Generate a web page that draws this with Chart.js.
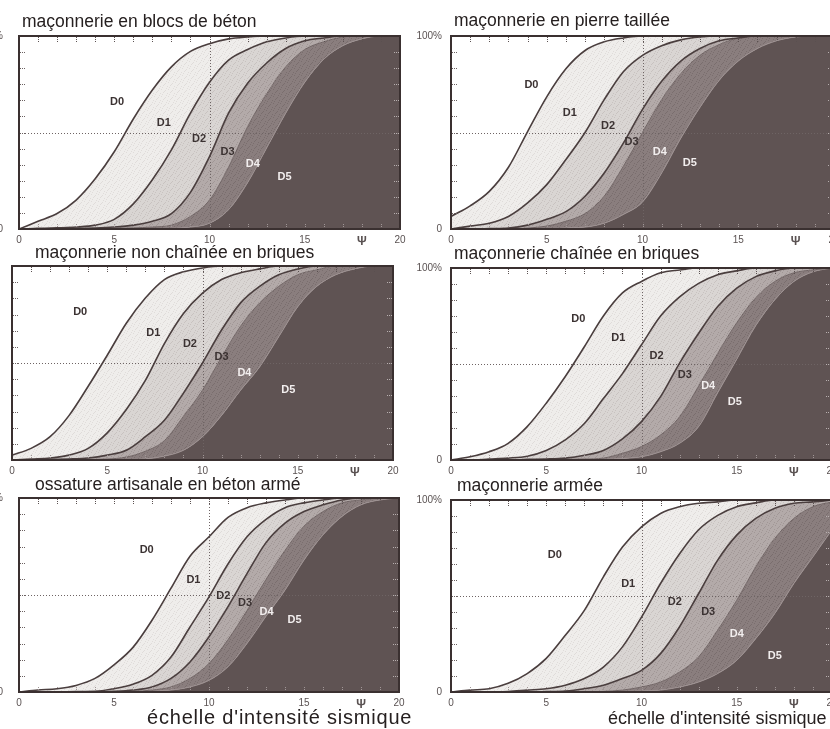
<!DOCTYPE html>
<html><head><meta charset="utf-8">
<script src="https://cdn.jsdelivr.net/npm/chart.js@4/dist/chart.umd.min.js"></script>
<style>
html,body{margin:0;padding:0;width:830px;height:729px;overflow:hidden;background:#fff;position:relative;}
canvas{position:absolute;}
.title{position:absolute;font-family:"Liberation Sans",Arial,sans-serif;font-size:17.5px;line-height:17.5px;color:#262020;white-space:nowrap;}
.axis{position:absolute;font-family:"Liberation Sans",Arial,sans-serif;color:#262020;white-space:nowrap;}
</style></head><body>
<script>
// ---- data ----
const psi = [0,1,2,3,4,5,6,7,8,9,10,11,12,13,14,15,16,17,18,19,20];
const xTickValues = [0,5,10,15,18,20];
const xTickLabels = ['0','5','10','15','Ψ','20'];
const yTickValues = [0,100];
const yTickLabels = ['0','100%'];
const damageLabels = ['D0','D1','D2','D3','D4','D5'];
const panelTitles = ['maçonnerie en blocs de béton','maçonnerie en pierre taillée','maçonnerie non chaînée en briques','maçonnerie chaînée en briques','ossature artisanale en béton armé','maçonnerie armée'];
const axisTitle = "échelle d'intensité sismique";
const refPsi = 10, refPct = 50;

// cumulative % of buildings with damage >= D1..D5, at psi = 0..20
const blocsBeton = [
  [0,4,8,15,26,40,57,72,84,92,96,98.5,99.5,100,100,100,100,100,100,100,100],
  [0,0.3,0.6,1,2,5,13,25.5,41,60,76,87.5,93,97,99,100,100,100,100,100,100],
  [0,0,0,0.3,0.5,1,2,4,8,19,37.5,60,75.5,86,93.5,97.5,99,100,100,100,100],
  [0,0,0,0,0,0.3,0.6,1,2,6.5,15,32,53,70,84,93,97,99.5,100,100,100],
  [0,0,0,0,0,0,0,0,0.3,1,3,10,24,42,60,76,88,95,98.5,100,100]
];
const pierreTaillee = [
  [6.5,12,19.5,32,50.5,68.5,83,92.5,97,99,100,100,100,100,100,100,100,100,100,100,100],
  [0,1.5,3,6.5,13.5,23,36,50,67,81.5,90,95,98,99.5,100,100,100,100,100,100,100],
  [0,0,0.2,0.5,2,5,9,17,29,44.5,62,76.5,87,93.5,97.5,99,100,100,100,100,100],
  [0,0,0,0,0.5,1.5,4,8,17,32.5,50,67,80.5,90,95.5,99,100,100,100,100,100],
  [0,0,0,0,0,0,0.5,1,3,7.5,14,29,47,63,77,87,93.5,97.5,99.5,100,100]
];
const briquesNonChainees = [
  [2.5,6,12,23,38,54,70.5,83.5,93,97,99,100,100,100,100,100,100,100,100,100,100],
  [0,0.5,1,2.5,6,14,26,41,60,75.5,86,93,96.5,98.5,100,100,100,100,100,100,100],
  [0,0,0.3,0.5,1,2.5,5,12,20.5,34.5,50,67,81,89.5,95.5,98.5,100,100,100,100,100],
  [0,0,0,0,0.3,0.5,1.5,4.5,10,22.5,36,53,69,81,89.5,95.5,98,100,100,100,100],
  [0,0,0,0,0,0,0,0.5,2,5,12,23,36,48,63.5,79,89.5,95.5,98.5,100,100]
];
const briquesChainees = [
  [0,1.7,4.3,8.7,17.4,29.6,43.5,59,75,87,93,97.5,99,100,100,100,100,100,100,100,100],
  [0,0,0.5,1,2,5,10.5,19,32,45,60,75,85,92,96.5,98.5,100,100,100,100,100],
  [0,0,0,0,0.3,0.5,1,2.5,5,11,20,33,50.5,66,80,89.5,95.5,98.5,100,100,100],
  [0,0,0,0,0,0,0.3,0.5,1,3.5,7,13,22.5,38.5,55.5,71.5,84.5,93,97.5,99,100],
  [0,0,0,0,0,0,0,0,0.3,0.8,1.7,4.3,8.7,17.4,35,52.5,70,83.5,93,98,100]
];
const ossatureBeton = [
  [0,1,1.7,3.4,7,14,23,37,53.5,70,80,90,95,97.5,99,100,100,100,100,100,100],
  [0,0,0,0.2,0.3,1.7,4,8.6,18,33.5,49,66,80,89,95,97.5,99,100,100,100,100],
  [0,0,0,0,0,0.3,1,2.6,7,15.5,28.5,44,61,77,87,93,96.5,99,100,100,100],
  [0,0,0,0,0,0,0.3,1,2.6,7,14.7,27,42,58,73,85.5,93,97.5,99,100,100],
  [0,0,0,0,0,0,0,0.3,1,2.6,6,13,25,39,52.5,68,81,90.5,96.5,99,100]
];
const maconnerieArmee = [
  [0,1,1.7,4.5,9.6,17.5,29.5,42.5,60,75.5,86,93,96.5,98.3,99,100,100,100,100,100,100],
  [0,0,0,0.3,1,1.7,3.5,7,13,23.5,39,56.5,72,84.5,92,96.5,98.5,100,100,100,100],
  [0,0,0,0,0,0.2,0.5,1.7,3.5,7,11.3,20,34,51.3,68.7,81.7,90.4,95.7,98.3,99,100],
  [0,0,0,0,0,0,0,0,0.3,1,2.6,5.2,10.4,18.3,32.2,47.8,65.2,80,90.4,96.5,99],
  [0,0,0,0,0,0,0,0,0,0.3,0.5,1,2.6,5.2,9.6,16.5,27.8,40.9,56.5,70.4,84.5]
];
// where the D0..D5 region names sit (psi, %)
const blocsBetonTags = [[5.15,66],[7.6,55],[9.45,46.5],[10.95,40],[12.27,33.6],[13.94,27]];
const pierreTailleeTags = [[4.2,74.7],[6.2,60.3],[8.2,53.4],[9.43,45.3],[10.9,39.7],[12.47,34.1]];
const briquesNonChaineesTags = [[3.58,76.5],[7.42,65.3],[9.34,60],[11.0,53.3],[12.2,44.7],[14.5,36]];
const briquesChaineesTags = [[6.68,73.4],[8.78,63.8],[10.79,54.3],[12.27,44.3],[13.5,38.3],[14.9,30.4]];
const ossatureBetonTags = [[6.72,73.3],[9.18,57.8],[10.75,49.5],[11.9,45.7],[13.03,41.4],[14.5,37]];
const maconnerieArmeeTags = [[5.45,71.3],[9.3,56.5],[11.75,46.9],[13.5,41.7],[15.0,30.4],[17.0,19]];

// ---- layout / style ----
const panels = [
  {data: blocsBeton, tags: blocsBetonTags, l:19, r:400, t:36, b:229, yPad:16, tx:22, tt:13.3},
  {data: pierreTaillee, tags: pierreTailleeTags, l:451, r:834, t:36, b:229, yPad:9, tx:454, tt:12},
  {data: briquesNonChainees, tags: briquesNonChaineesTags, l:12, r:393, t:266, b:460, yPad:16, tx:35, tt:243.5},
  {data: briquesChainees, tags: briquesChaineesTags, l:451, r:832, t:268, b:460, yPad:9, tx:454, tt:245.3},
  {data: ossatureBeton, tags: ossatureBetonTags, l:19, r:399, t:498, b:692, yPad:16, tx:35, tt:476},
  {data: maconnerieArmee, tags: maconnerieArmeeTags, l:451, r:832, t:500, b:692, yPad:9, tx:457, tt:477}
];
const Y_W = 40, X_H = 22, PAD_T = 10, PAD_R = 10;
const bandBase = ['#efedeb','#d9d5d3','#b3aaa9','#8a7e7e','#5f5353'];
const bandDot  = ['#e0dcda','#c8c2c0','#a19796','#7a6e6e','#5f5353'];
const lineColors = ['#4a3e3e','#4a3e3e','#4a3e3e','#6f6363','#9c9090'];
const lineWidths = [1.6,1.6,1.6,1,1];
const FONT = '"Liberation Sans", Arial, sans-serif';
const stipple = [[0,0],[4,1],[2,3],[6,4],[1,5],[5,6],[3,2]];

function makePattern(base, dot) {
  const c = document.createElement('canvas'); c.width = 7; c.height = 7;
  const g = c.getContext('2d');
  g.fillStyle = base; g.fillRect(0,0,7,7);
  g.fillStyle = dot; stipple.forEach(s => g.fillRect(s[0], s[1], 1, 1));
  return g.createPattern(c, 'repeat');
}
const bandFills = bandBase.map((b,i) => makePattern(b, bandDot[i]));

const framePlugin = {
  id: 'frame',
  beforeDatasetsDraw(chart) {
    const {ctx, chartArea: a, scales: {x, y}} = chart;
    ctx.save();
    ctx.beginPath(); ctx.rect(a.left, a.top, a.right - a.left, a.bottom - a.top); ctx.clip();
    ctx.strokeStyle = '#6e6464'; ctx.lineWidth = 1; ctx.setLineDash([1,2]);
    const xv = Math.round(x.getPixelForValue(refPsi)) + 0.5;
    const yv = Math.round(y.getPixelForValue(refPct)) + 0.5;
    ctx.beginPath();
    ctx.moveTo(xv, a.top); ctx.lineTo(xv, a.bottom);
    ctx.moveTo(a.left, yv); ctx.lineTo(a.right, yv);
    ctx.stroke();
    ctx.restore();
  },
  afterDatasetsDraw(chart, args, opts) {
    const {ctx, chartArea: a, scales: {x, y}} = chart;
    ctx.save();
    ctx.lineWidth = 1;
    ctx.setLineDash([1,1]);
    for (let i = 1; i < 20; i++) {
      const px = Math.round(x.getPixelForValue(i)) + 0.5;
      ctx.strokeStyle = '#5a5050';
      ctx.beginPath(); ctx.moveTo(px, a.top + 1); ctx.lineTo(px, a.top + 6); ctx.stroke();
      ctx.strokeStyle = '#a09696';
      ctx.beginPath(); ctx.moveTo(px, a.bottom - 5); ctx.lineTo(px, a.bottom - 1); ctx.stroke();
    }
    for (let j = 1; j < 12; j++) {
      const py = Math.round(y.getPixelForValue(j * 100 / 12)) + 0.5;
      ctx.strokeStyle = '#6a6060';
      ctx.beginPath(); ctx.moveTo(a.left + 1, py); ctx.lineTo(a.left + 6, py); ctx.stroke();
      ctx.strokeStyle = '#b8b0b0';
      ctx.beginPath(); ctx.moveTo(a.right - 6, py); ctx.lineTo(a.right - 1, py); ctx.stroke();
    }
    ctx.setLineDash([]);
    ctx.strokeStyle = '#3a3030'; ctx.lineWidth = 2;
    ctx.strokeRect(a.left, a.top, a.right - a.left, a.bottom - a.top);
    ctx.font = 'bold 11px ' + FONT;
    ctx.textAlign = 'center'; ctx.textBaseline = 'middle';
    opts.tags.forEach((p, k) => {
      ctx.fillStyle = k >= 4 ? '#f2eeee' : '#3b3232';
      ctx.fillText(damageLabels[k], x.getPixelForValue(p[0]), y.getPixelForValue(p[1]));
    });
    ctx.restore();
  }
};

panels.forEach((p, idx) => {
  const cv = document.createElement('canvas');
  const W = (p.r - p.l) + Y_W + PAD_R, H = (p.b - p.t) + PAD_T + X_H;
  cv.width = W; cv.height = H;
  cv.style.left = (p.l - Y_W) + 'px'; cv.style.top = (p.t - PAD_T) + 'px';
  cv.style.width = W + 'px'; cv.style.height = H + 'px';
  document.body.appendChild(cv);

  const t = document.createElement('div');
  t.className = 'title'; t.textContent = panelTitles[idx];
  t.style.left = p.tx + 'px'; t.style.top = p.tt + 'px';
  document.body.appendChild(t);

  const datasets = p.data.map((curve, k) => ({
    data: curve.map((v, i) => ({x: psi[i], y: v})),
    borderColor: lineColors[k],
    borderWidth: lineWidths[k],
    backgroundColor: bandFills[k],
    fill: k < 4 ? '+1' : 'origin',
    pointRadius: 0,
    cubicInterpolationMode: 'monotone'
  }));

  new Chart(cv, {
    type: 'line',
    data: {datasets},
    options: {
      responsive: false, animation: false, devicePixelRatio: 1,
      layout: {padding: {top: PAD_T, right: PAD_R, left: 0, bottom: 0}},
      plugins: {
        legend: {display: false}, tooltip: {enabled: false},
        filler: {drawTime: 'beforeDatasetsDraw'},
        frame: {tags: p.tags}
      },
      scales: {
        x: {
          type: 'linear', min: 0, max: 20,
          grid: {display: false, drawTicks: false}, border: {display: false},
          afterBuildTicks: s => { s.ticks = xTickValues.map(v => ({value: v})); },
          afterFit: s => { s.height = X_H; s.paddingLeft = 0; s.paddingRight = 0; },
          ticks: {
            autoSkip: false, maxRotation: 0, padding: 5, color: '#5a5252',
            font: c => (c.tick && c.tick.value === 18) ? {family: FONT, size: 12, weight: 'bold'} : {family: FONT, size: 10},
            callback: v => xTickLabels[xTickValues.indexOf(v)]
          }
        },
        y: {
          min: 0, max: 100,
          grid: {display: false, drawTicks: false}, border: {display: false},
          afterBuildTicks: s => { s.ticks = yTickValues.map(v => ({value: v})); },
          afterFit: s => { s.width = Y_W; s.paddingTop = 0; s.paddingBottom = 0; },
          ticks: {
            autoSkip: false, padding: p.yPad, color: '#5a5252', font: {family: FONT, size: 10},
            callback: v => yTickLabels[yTickValues.indexOf(v)]
          }
        }
      }
    },
    plugins: [framePlugin]
  });
});

[{left: 147, top: 707, size: 20, ls: 0.8}, {left: 608, top: 709, size: 18, ls: 0}].forEach(pos => {
  const d = document.createElement('div');
  d.className = 'axis'; d.textContent = axisTitle;
  d.style.left = pos.left + 'px'; d.style.top = pos.top + 'px';
  d.style.fontSize = pos.size + 'px'; d.style.lineHeight = pos.size + 'px';
  d.style.letterSpacing = pos.ls + 'px';
  document.body.appendChild(d);
});
</script>
</body></html>
